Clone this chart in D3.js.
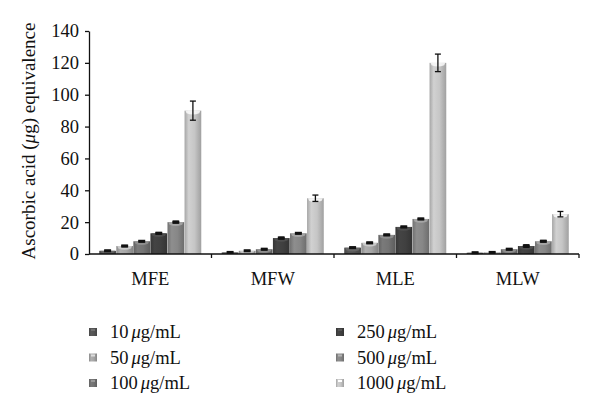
<!DOCTYPE html>
<html><head><meta charset="utf-8">
<script src="https://cdn.jsdelivr.net/npm/d3@7"></script>
<style>body{margin:0;background:#fff}svg{display:block}text{font-family:"Liberation Serif","DejaVu Serif",serif;fill:#111}</style>
</head><body><div id="chart"></div>
<script>
const categories = ["MFE", "MFW", "MLE", "MLW"];
const seriesNames = ["10 μg/mL", "50 μg/mL", "100 μg/mL", "250 μg/mL", "500 μg/mL", "1000 μg/mL"];
const s10   = [2, 1, 4, 0.8];
const s50   = [5, 2, 7, 1];
const s100  = [8, 3, 12, 3];
const s250  = [13, 10, 17, 5];
const s500  = [20, 13, 22, 8];
const s1000 = [90, 35, 120, 25];
const e10   = [0.3, 0.2, 0.3, 0.2];
const e50   = [0.4, 0.3, 0.4, 0.2];
const e100  = [0.4, 0.4, 0.4, 0.4];
const e250  = [0.5, 0.6, 0.4, 0.8];
const e500  = [0.6, 0.4, 0.4, 0.5];
const e1000 = [6, 2, 5.5, 1.7];
const yTicks = [0, 20, 40, 60, 80, 100, 120, 140];
const seriesValues = [s10, s50, s100, s250, s500, s1000];
const seriesErrors = [e10, e50, e100, e250, e500, e1000];
const colors = ["#555555", "#a6a6a6", "#747474", "#404040", "#878787", "#c6c6c6"];

const W = 600, H = 414;
const m = {left: 89, right: 21, top: 31, bottom: 160};
const svg = d3.select("#chart").append("svg").attr("width", W).attr("height", H);
const defs = svg.append("defs");
colors.forEach((c, i) => {
  const g = defs.append("linearGradient").attr("id", "g" + i).attr("x1", "0").attr("x2", "1").attr("y1", "0").attr("y2", "0");
  const base = d3.color(c);
  g.append("stop").attr("offset", "0%").attr("stop-color", base.darker(0.5));
  g.append("stop").attr("offset", "25%").attr("stop-color", base.brighter(0.15));
  g.append("stop").attr("offset", "60%").attr("stop-color", base);
  g.append("stop").attr("offset", "100%").attr("stop-color", base.darker(0.6));
});

const x0 = d3.scaleBand().domain(categories).range([m.left, W - m.right]).paddingInner(0).paddingOuter(0);
const x1 = d3.scaleBand().domain(d3.range(seriesNames.length)).range([0, x0.bandwidth()]).paddingOuter(0.6).paddingInner(0.02);
const y = d3.scaleLinear().domain([0, 140]).range([H - m.bottom, m.top]);

// bars
categories.forEach((cat, ci) => {
  seriesValues.forEach((vals, si) => {
    const bx = x0(cat) + x1(si), bw = x1.bandwidth();
    const v = vals[ci], top = y(v), bot = y(0);
    svg.append("rect").attr("x", bx).attr("y", top).attr("width", bw).attr("height", bot - top)
      .attr("fill", `url(#g${si})`);
    const capH = Math.min(5, bot - top);
    svg.append("path")
      .attr("d", `M${bx + 1},${top} L${bx + bw - 1},${top} L${bx + bw - 2},${top + capH * 0.5} Q${bx + bw / 2},${top + capH} ${bx + 2},${top + capH * 0.5} Z`)
      .attr("fill", d3.color(colors[si]).brighter(0.7)).attr("opacity", 0.8);
    const e = seriesErrors[si][ci];
    const cx = bx + bw / 2;
    const yt = y(v + e), yb = y(v - e);
    const eg = svg.append("g").attr("stroke", "#111").attr("stroke-width", 1.3);
    eg.append("line").attr("x1", cx).attr("x2", cx).attr("y1", yt).attr("y2", yb);
    eg.append("line").attr("x1", cx - 3).attr("x2", cx + 3).attr("y1", yt).attr("y2", yt);
    eg.append("line").attr("x1", cx - 3).attr("x2", cx + 3).attr("y1", yb).attr("y2", yb);
    if (yb - yt < 3) {
      svg.append("rect").attr("x", cx - 3.5).attr("y", (yt + yb) / 2 - 1.5).attr("width", 7).attr("height", 3).attr("fill", "#111");
    }
  });
});

// y axis
const yAxis = d3.axisLeft(y).tickValues(yTicks).tickSize(4).tickSizeOuter(0).tickPadding(6);
const ya = svg.append("g").attr("transform", `translate(${m.left},0)`).call(yAxis);
ya.attr("font-size", null).attr("font-family", null);
ya.select(".domain").attr("stroke", "#111").attr("stroke-width", 1.3);
ya.selectAll(".tick line").attr("stroke", "#111").attr("stroke-width", 1.3);
ya.selectAll("text").style("font-size", "18.5px").style("font-family", "'Liberation Serif', serif").attr("fill", "#111");

// x axis
const xa = svg.append("g").attr("transform", `translate(0,${y(0)})`);
xa.append("line").attr("x1", m.left).attr("x2", W - m.right).attr("y1", 0).attr("y2", 0).attr("stroke", "#111").attr("stroke-width", 1.3);
categories.forEach(cat => {
  const xr = x0(cat) + x0.bandwidth();
  xa.append("line").attr("x1", xr).attr("x2", xr).attr("y1", 0).attr("y2", 4).attr("stroke", "#111").attr("stroke-width", 1.3);
  xa.append("text").attr("x", x0(cat) + x0.bandwidth() / 2).attr("y", 31).attr("text-anchor", "middle")
    .style("font-size", "18.5px").text(cat);
});

// y label
svg.append("text").attr("transform", `translate(35,141) rotate(-90)`)
  .attr("text-anchor", "middle").style("font-size", "19px")
  .html('Ascorbic acid (<tspan font-style="italic">μ</tspan>g) equivalence');

// legend
const legX = [89, 336], legY = [332, 357.5, 383];
seriesNames.forEach((name, i) => {
  const col = Math.floor(i / 3), row = i % 3;
  const lx = legX[col], ly = legY[row];
  svg.append("rect").attr("x", lx).attr("y", ly - 4).attr("width", 8).attr("height", 8).attr("fill", `url(#g${i})`);
  svg.append("rect").attr("x", lx + 2).attr("y", ly - 3).attr("width", 4).attr("height", 2).attr("fill", d3.color(colors[i]).brighter(0.8));
  const parts = name.split(" ");
  const t = svg.append("text").attr("x", lx + 21).attr("y", ly + 6).style("font-size", "18.5px");
  t.append("tspan").text(parts[0]);
  t.append("tspan").attr("dx", 3).attr("font-style", "italic").text("μ");
  t.append("tspan").text(parts[1].slice(1));
});
</script>
</body></html>
